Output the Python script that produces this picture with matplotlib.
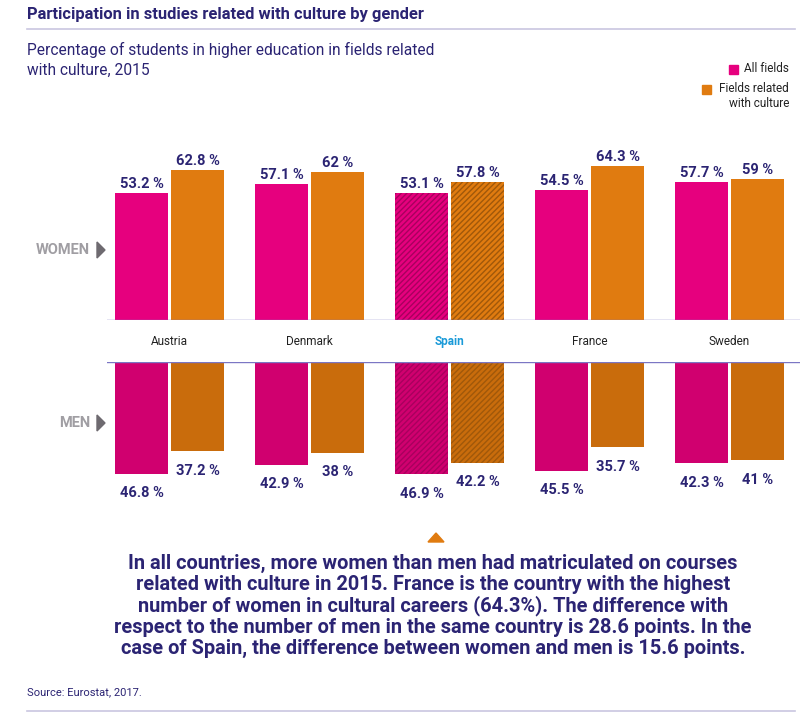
import numpy as np
import matplotlib
matplotlib.use('Agg')
import matplotlib.pyplot as plt
from matplotlib.patches import Polygon

plt.rcParams['font.family'] = ['Roboto', 'DejaVu Sans']
plt.rcParams['hatch.linewidth'] = 1.0

countries = ['Austria', 'Denmark', 'Spain', 'France', 'Sweden']
women_all = [53.2, 57.1, 53.1, 54.5, 57.7]
women_culture = [62.8, 62, 57.8, 64.3, 59]
men_all = [46.8, 42.9, 46.9, 45.5, 42.3]
men_culture = [37.2, 38, 42.2, 35.7, 41]
highlight = 'Spain'

W, H = 800, 715
navy = '#2B2473'
pink_w, orange_w = '#E6007E', '#E07B10'
pink_m, orange_m = '#D0006F', '#C96C0C'
line_c = '#7B76C4'


def fx(x):
    return x / W


def fy(y):
    return 1 - y / H


def fmt(v):
    return ('%g' % v) + ' %'


fig = plt.figure(figsize=(W / 100, H / 100), dpi=100)

# axes placed in pixel terms: group i centre at 169.5 + 140*i
x0, x1 = 107, 800
xlim = ((x0 - 169.5) / 140, (x1 - 169.5) / 140)
scale = 2.39  # px per percentage point

ax_w = fig.add_axes([fx(x0), fy(320), (x1 - x0) / W, 180 / H])
ax_m = fig.add_axes([fx(x0), fy(500), (x1 - x0) / W, 138 / H])

x = np.arange(len(countries))
bw = 0.38
off = 0.2
hatch_idx = countries.index(highlight)

for ax, a, c, pc, oc in [(ax_w, women_all, women_culture, pink_w, orange_w),
                         (ax_m, men_all, men_culture, pink_m, orange_m)]:
    ax.bar(x - off, a, bw, color=pc, edgecolor='none')
    ax.bar(x + off, c, bw, color=oc, edgecolor='none')
    # hatched highlight for Spain
    ax.bar(x[hatch_idx] - off, a[hatch_idx], bw, color='none', edgecolor='#A8005E',
           hatch='//////', linewidth=0)
    ax.bar(x[hatch_idx] + off, c[hatch_idx], bw, color='none', edgecolor='#A0580A',
           hatch='//////', linewidth=0)
    ax.set_xlim(*xlim)
    for s in ['top', 'right', 'left', 'bottom']:
        ax.spines[s].set_visible(False)
    ax.set_xticks([])
    ax.set_yticks([])
    ax.patch.set_alpha(0)

ax_w.set_ylim(0, 180 / scale)
ax_m.set_ylim(138 / scale, 0)
ax_w.axhline(0, color=line_c, lw=1)
ax_m.axhline(0, color=line_c, lw=1)

for i in range(len(countries)):
    ax_w.annotate(fmt(women_all[i]), (x[i] - off, women_all[i]), xytext=(0, 3.5),
                  textcoords='offset points', ha='center', va='baseline',
                  fontsize=10.5, fontweight='bold', color=navy)
    ax_w.annotate(fmt(women_culture[i]), (x[i] + off, women_culture[i]), xytext=(0, 3.5),
                  textcoords='offset points', ha='center', va='baseline',
                  fontsize=10.5, fontweight='bold', color=navy)
    ax_m.annotate(fmt(men_all[i]), (x[i] - off, men_all[i]), xytext=(0, -17),
                  textcoords='offset points', ha='center', va='baseline',
                  fontsize=10.5, fontweight='bold', color=navy)
    ax_m.annotate(fmt(men_culture[i]), (x[i] + off, men_culture[i]), xytext=(0, -17),
                  textcoords='offset points', ha='center', va='baseline',
                  fontsize=10.5, fontweight='bold', color=navy)
    # country names between the two panels
    is_hl = countries[i] == highlight
    fig.text(fx(169.5 + 140 * i), fy(341), countries[i], ha='center', va='center',
             fontsize=8.5, color='#1A9AD8' if is_hl else '#222222',
             fontweight='bold' if is_hl else 'normal')

# side labels
for label, yy in [('WOMEN', 250), ('MEN', 423)]:
    fig.text(fx(90), fy(yy), label, ha='right', va='center', fontsize=10.5,
             fontweight='bold', color='#A09EA3')
    fig.add_artist(Polygon([(fx(97), fy(yy - 8)), (fx(105), fy(yy)), (fx(97), fy(yy + 8))],
                           closed=True, color='#6E6A70', transform=fig.transFigure))

# titles
fig.text(fx(27), fy(15), 'Participation in studies related with culture by gender',
         ha='left', va='center', fontsize=11.9, fontweight='bold', color=navy)
fig.add_artist(plt.Line2D([fx(27), fx(795)], [fy(29), fy(29)], color='#C9C6E0', lw=1.2))
fig.text(fx(27), fy(60), 'Percentage of students in higher education in fields related\nwith culture, 2015',
         ha='left', va='center', fontsize=11.2, color=navy, linespacing=1.4)

# legend
fig.add_artist(plt.Rectangle((fx(729), fy(74)), 9 / W, 9 / H, color=pink_w))
fig.text(fx(789), fy(69), 'All fields', ha='right', va='center', fontsize=8.5, color='#222222')
fig.add_artist(plt.Rectangle((fx(702), fy(94)), 9 / W, 9 / H, color=orange_w))
fig.text(fx(789), fy(96), 'Fields related\nwith culture', ha='right', va='center',
         fontsize=8.5, color='#222222', linespacing=1.2)

# commentary
fig.add_artist(Polygon([(fx(428), fy(542)), (fx(436), fy(533)), (fx(444), fy(542))],
                       closed=True, color='#E07B10', transform=fig.transFigure))
note = ('In all countries, more women than men had matriculated on courses\n'
        'related with culture in 2015. France is the country with the highest\n'
        'number of women in cultural careers (64.3%). The difference with\n'
        'respect to the number of men in the same country is 28.6 points. In the\n'
        'case of Spain, the difference between women and men is 15.6 points.')
fig.text(fx(433), fy(606), note, ha='center', va='center', fontsize=14.4,
         fontweight='bold', color=navy, linespacing=1.13)

fig.text(fx(27), fy(692), 'Source: Eurostat, 2017.', ha='left', va='center',
         fontsize=8, color=navy)
fig.add_artist(plt.Line2D([fx(27), fx(795)], [fy(711), fy(711)], color='#C9C6E0', lw=1.2))

fig.savefig('out.png', dpi=100)
